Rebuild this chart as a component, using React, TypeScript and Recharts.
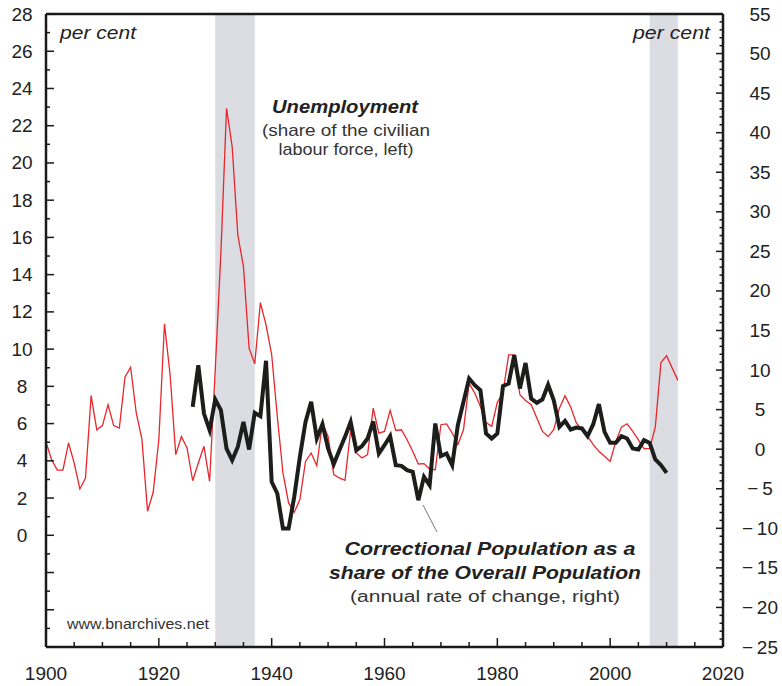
import React from 'react';
import { ComposedChart, Line, XAxis, YAxis, ReferenceArea, ReferenceLine } from 'recharts';

const years = [
  1900, 1901, 1902, 1903, 1904, 1905, 1906, 1907, 1908, 1909,
  1910, 1911, 1912, 1913, 1914, 1915, 1916, 1917, 1918, 1919,
  1920, 1921, 1922, 1923, 1924, 1925, 1926, 1927, 1928, 1929,
  1930, 1931, 1932, 1933, 1934, 1935, 1936, 1937, 1938, 1939,
  1940, 1941, 1942, 1943, 1944, 1945, 1946, 1947, 1948, 1949,
  1950, 1951, 1952, 1953, 1954, 1955, 1956, 1957, 1958, 1959,
  1960, 1961, 1962, 1963, 1964, 1965, 1966, 1967, 1968, 1969,
  1970, 1971, 1972, 1973, 1974, 1975, 1976, 1977, 1978, 1979,
  1980, 1981, 1982, 1983, 1984, 1985, 1986, 1987, 1988, 1989,
  1990, 1991, 1992, 1993, 1994, 1995, 1996, 1997, 1998, 1999,
  2000, 2001, 2002, 2003, 2004, 2005, 2006, 2007, 2008, 2009,
  2010, 2011, 2012,
];

// unemployment, % of civilian labour force (left axis), 1900-2012
const unemployment = [
  5.0, 4.06, 3.5, 3.5, 4.96, 3.88, 2.49, 3.08, 7.5, 5.67,
  5.89, 7.01, 5.89, 5.76, 8.5, 9.03, 6.57, 5.17, 1.29, 2.31,
  5.13, 11.36, 8.62, 4.33, 5.31, 4.69, 2.93, 3.88, 4.78, 2.9,
  8.9, 15.17, 22.93, 20.87, 16.13, 14.43, 10.05, 9.21, 12.5, 11.3,
  9.7, 6.38, 3.35, 1.74, 1.23, 1.92, 3.97, 4.42, 3.74, 6.03,
  5.31, 3.26, 3.08, 2.95, 5.63, 4.42, 4.15, 4.33, 6.83, 5.49,
  5.58, 6.71, 5.63, 5.67, 5.13, 4.51, 3.83, 3.85, 3.56, 3.52,
  5.94, 5.98, 5.49, 4.87, 5.67, 8.17, 7.64, 6.92, 6.06, 5.85,
  7.14, 7.64, 9.69, 9.69, 7.55, 7.24, 7.01, 6.3, 5.58, 5.3,
  5.67, 6.83, 7.49, 6.89, 6.03, 5.67, 5.31, 4.87, 4.51, 4.24,
  3.97, 5.04, 5.81, 5.99, 5.58, 5.13, 4.65, 4.65, 5.81, 9.28,
  9.64, 8.98, 8.32,
];

// correctional population share, annual % change (right axis), 1926-2010
const correctionalStart = 1926;
const correctional = [
  5.35, 10.6, 4.5, 2.4,
  6.28, 4.93, 0.08, -1.39, 0.3, 3.45, -0.04, 4.6, 4.17, 11.17,
  -4.13, -5.6, -10.03, -10.03, -6.03, -0.97, 3.45, 5.98, 1.35, 3.16,
  0.08, -1.9, -0.13, 1.56, 3.45, -0.13, 0.38, 1.35, 3.5, -0.55,
  0.5, 1.64, -2.02, -2.1, -2.65, -2.87, -6.45, -3.5, -4.55, 3.25,
  -0.88, -0.55, -2.02, 3.03, 5.98, 8.93, 8.09, 7.46, 1.98, 1.35,
  1.98, 7.96, 8.3, 11.88, 7.67, 10.9, 6.4, 5.86, 6.3, 8.15,
  6.19, 2.82, 3.58, 2.49, 2.74, 2.62, 1.64, 3.16, 5.69, 2.19,
  0.8, 0.8, 1.64, 1.35, 0.08, -0.04, 1.14, 0.8, -1.3, -2.02,
  -3.0,
];

// shaded periods
const shaded = [
  [1930, 1937],
  [2007, 2012],
];

const range = (a: number, b: number, step: number) => {
  const out: number[] = [];
  for (let v = a; v <= b; v += step) out.push(v);
  return out;
};

const xTicks = range(1900, 2020, 5);
const leftTicks = range(-6, 28, 1);
const rightTicks = range(-25, 55, 1);

const data = years.map((year, i) => {
  const j = year - correctionalStart;
  return {
    year,
    unemployment: unemployment[i],
    correctional: j >= 0 && j < correctional.length ? correctional[j] : null,
  };
});

const FONT = '"Liberation Sans", Arial, Helvetica, sans-serif';
const AXIS = '#1a1a1a';

const LeftTick = (props: any) => {
  const { x, y, payload } = props;
  const v = payload.value;
  const major = v % 2 === 0;
  return (
    <g>
      <line x1={x} x2={x + (major ? 8 : 4)} y1={y} y2={y} stroke={AXIS} strokeWidth={1.5} />
      {major && v >= 0 && (
        <text x={22} y={y} textAnchor="middle" dominantBaseline="central" fontSize={19} fill="#222" fontFamily={FONT}>
          {v}
        </text>
      )}
    </g>
  );
};

const RightTick = (props: any) => {
  const { x, y, payload } = props;
  const v = payload.value;
  const major = v % 5 === 0;
  return (
    <g>
      <line x1={x - (major ? 7 : 3.5)} x2={x} y1={y} y2={y} stroke={AXIS} strokeWidth={1.5} />
      {major && (
        <text x={760} y={y} textAnchor="middle" dominantBaseline="central" fontSize={19} fill="#222" fontFamily={FONT}>
          {v < 0 ? '\u2212\u2009' + Math.abs(v) : v}
        </text>
      )}
    </g>
  );
};

const BottomTick = (props: any) => {
  const { x, y, payload } = props;
  const v = payload.value;
  const major = v % 20 === 0;
  return (
    <g>
      <line x1={x} x2={x} y1={y} y2={y - (major ? 9 : 5)} stroke={AXIS} strokeWidth={1.5} />
      {major && (
        <text x={x} y={y + 26} textAnchor="middle" dominantBaseline="central" fontSize={19} fill="#222" fontFamily={FONT}>
          {v}
        </text>
      )}
    </g>
  );
};

const Note = (props: any) => {
  const { x, y, w, size, bold, italic, anchor, fill, children } = props;
  return (
    <text
      x={x}
      y={y}
      fontSize={size}
      fontWeight={bold ? 'bold' : 'normal'}
      fontStyle={italic ? 'italic' : 'normal'}
      fill={fill || '#222'}
      textAnchor={anchor || 'middle'}
      dominantBaseline="central"
      textLength={w}
      lengthAdjust="spacingAndGlyphs"
    >
      {children}
    </text>
  );
};

export default function App() {
  return (
    <div style={{ position: 'absolute', left: 0, top: 0, width: 782, height: 686, background: '#fff' }}>
      <ComposedChart width={782} height={686} data={data} margin={{ top: 14, right: 0, bottom: 0, left: 0 }}>
        <XAxis
          dataKey="year"
          type="number"
          domain={[1900, 2020]}
          ticks={xTicks}
          interval={0}
          height={39}
          tickSize={0}
          tickMargin={0}
          tickLine={false}
          tick={<BottomTick />}
          axisLine={{ stroke: AXIS, strokeWidth: 2.5 }}
        />
        <YAxis
          yAxisId="left"
          orientation="left"
          type="number"
          domain={[-6, 28]}
          ticks={leftTicks}
          interval={0}
          width={46}
          tickSize={0}
          tickMargin={0}
          tickLine={false}
          tick={<LeftTick />}
          axisLine={{ stroke: AXIS, strokeWidth: 2.5 }}
        />
        <YAxis
          yAxisId="right"
          orientation="right"
          type="number"
          domain={[-25, 55]}
          ticks={rightTicks}
          interval={0}
          width={59}
          tickSize={0}
          tickMargin={0}
          tickLine={false}
          tick={<RightTick />}
          axisLine={{ stroke: AXIS, strokeWidth: 2.5 }}
        />
        {shaded.map(([a, b]) => (
          <ReferenceArea key={a} yAxisId="left" x1={a} x2={b} y1={-6} y2={28} fill="#dcdde2" fillOpacity={1} stroke="none" />
        ))}
        <ReferenceLine yAxisId="left" y={28} stroke={AXIS} strokeWidth={2.5} />
        <Line
          yAxisId="left"
          dataKey="unemployment"
          type="linear"
          stroke="#e8262c"
          strokeWidth={1.3}
          dot={false}
          isAnimationActive={false}
        />
        <Line
          yAxisId="right"
          dataKey="correctional"
          type="linear"
          stroke="#1d1d1b"
          strokeWidth={4}
          dot={false}
          connectNulls={false}
          isAnimationActive={false}
        />
      </ComposedChart>
      <svg width={782} height={686} style={{ position: 'absolute', left: 0, top: 0, pointerEvents: 'none' }}>
        <g fontFamily={FONT}>
          <Note x={60} y={33} w={76} size={18} italic anchor="start">per cent</Note>
          <Note x={710} y={33} w={77} size={18} italic anchor="end">per cent</Note>
          <Note x={345} y={106} w={146} size={19} bold italic>Unemployment</Note>
          <Note x={346} y={130} w={168} size={17} fill="#333">(share of the civilian</Note>
          <Note x={346} y={149} w={135} size={17} fill="#333">labour force, left)</Note>
          <Note x={490} y={549} w={291} size={18} bold italic>Correctional Population as a</Note>
          <Note x={485} y={573} w={312} size={18} bold italic>share of the Overall Population</Note>
          <Note x={485} y={596} w={270} size={16} fill="#333">(annual rate of change, right)</Note>
          <Note x={67} y={623} w={142} size={15} fill="#333" anchor="start">www.bnarchives.net</Note>
          <line x1={423} y1={505} x2={437} y2={532} stroke="#555" strokeWidth={0.8} />
        </g>
      </svg>
    </div>
  );
}
